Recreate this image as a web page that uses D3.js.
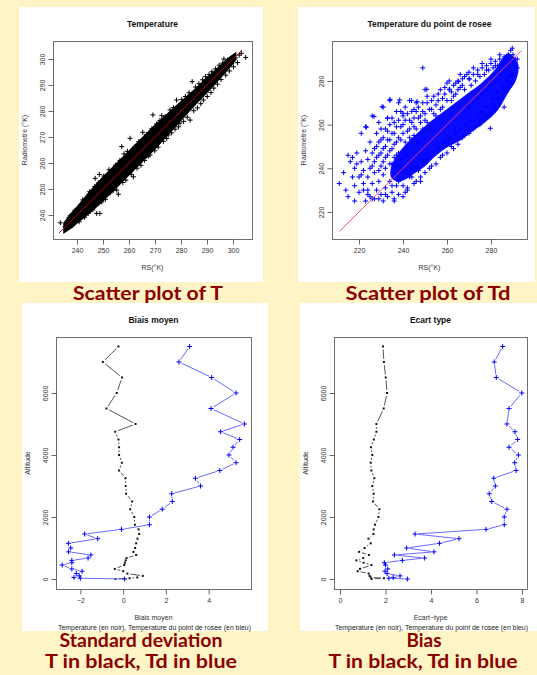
<!DOCTYPE html>
<html>
<head>
<meta charset="utf-8">
<script src="https://cdn.jsdelivr.net/npm/d3@7"></script>
<style>
  body { margin: 0; background: #fff4c6; }
  svg { display: block; }
  .axis text { font-family: "Liberation Sans", Arial, sans-serif; font-size: 7px; fill: #333; }
  .axis path, .axis line { stroke: #666; }
</style>
</head>
<body>
<div id="chart-area"></div>
<script>
// ---- data ----

// Temperature scatter: dense core (x, lower y, upper y) and the loose points around it
let tCoreX  = [235, 238, 240, 245, 250, 255, 260, 265, 270, 275, 280, 285, 290, 295, 299, 301];
let tCoreLo = [233.2, 235.2, 237, 241, 245.5, 250.5, 255.5, 260.5, 265.5, 271, 276.5, 282, 287.2, 292.7, 297.2, 299.8];
let tCoreHi = [236.8, 240.8, 243, 249, 254.5, 259.5, 264.5, 269.5, 274.5, 279, 283.5, 288, 292.8, 297.3, 300.8, 302.2];
let tScatter = [[233.6,237.0],[235.5,235.5],[236.9,239.0],[237.3,239.6],[238.5,236.2],[239.2,241.8],[240.1,240.0],[240.8,237.4],
  [241.5,243.0],[242.2,245.8],[242.9,239.1],[243.6,246.3],[244.3,240.6],[244.9,249.0],[245.3,248.6],[246.1,242.0],[246.8,251.0],
  [247.0,254.1],[247.6,240.6],[248.2,252.4],[248.6,255.6],[248.8,240.6],[249.5,245.0],[250.3,255.0],[250.9,246.0],[251.7,252.4],
  [252.3,257.4],[252.8,248.5],[253.3,255.6],[254.1,249.5],[254.8,259.2],[255.3,249.6],[255.9,248.0],[256.5,261.0],[257.2,266.3],
  [257.6,252.5],[258.1,263.5],[258.8,253.4],[259.4,264.5],[260.4,269.5],[260.9,255.6],[261.7,254.7],[262.3,266.4],[263.1,258.0],
  [263.8,268.3],[264.6,259.1],[265.3,271.8],[266.0,261.0],[266.7,270.9],[267.4,262.6],[268.1,263.1],[268.8,273.2],[269.2,278.5],
  [269.9,264.7],[270.6,275.0],[271.2,266.1],[271.9,276.4],[272.6,278.2],[273.2,268.3],[273.9,277.8],[274.5,269.4],[275.1,270.8],
  [275.8,280.4],[276.4,271.6],[277.1,281.3],[277.7,273.0],[278.3,284.2],[279.0,273.9],[279.6,275.3],[280.3,284.4],[281.0,276.0],
  [281.7,285.6],[282.4,277.6],[283.1,287.0],[283.5,276.5],[284.3,291.3],[284.9,280.1],[285.6,289.2],[286.3,281.2],[286.9,290.5],
  [287.6,282.8],[288.3,292.0],[288.6,284.2],[289.4,293.2],[290.1,285.6],[290.8,294.0],[291.5,287.1],[291.9,295.1],[292.6,288.8],
  [293.3,296.2],[294.0,290.3],[294.7,297.6],[295.4,292.1],[296.0,298.4],[296.5,300.0],[297.2,293.8],[297.9,299.6],[298.6,295.4],
  [299.5,298.3],[300.2,297.0],[301.0,300.4],[301.7,298.6],[302.4,301.5],[303.2,302.2],[304.9,300.6]];

// Dew point scatter: solid core outline and the loose points
let tdCore = [[287.7,292.7],[292.3,288.1],[291.5,280.5],[287.7,274.4],[283.2,266.7],[278.6,262.1],[272.6,257.6],[266.5,253],
  [260.5,249.9],[254.4,245.3],[249.9,240.8],[245.3,237.7],[240.8,234.7],[237,234],[234.5,236],[234.7,241],
  [237.5,246.3],[241.2,250.9],[245.8,255.5],[250.9,260.1],[257.4,265.2],[263.5,269.8],[269.5,274.4],[275.6,279],[281.7,285],[284.7,289.6]];
let tdScatter = [[211,233],[213,238],[214,230],[215,227],[215,246],[216,243],[217,236],[218,225],[218,232],[218,240],[219,247],
  [220,229],[220,236],[221,243],[221,256],[222,233],[222,239],[223,225],[223,248],[223,259],[224,230],[224,236],[224,244],[225,227],
  [225,240],[225,252],[226,233],[226,247],[226,264],[227,226],[227,238],[227,243],[228,230],[228,250],[228,256],[229,234],[229,246],
  [229,261],[230,228],[230,241],[230,253],[231,225],[231,237],[231,249],[231,268],[232,231],[232,245],[232,258],[233,227],[233,253],
  [233,263],[234,234],[234,248],[234,271],[235,229],[235,242],[235,256],[236,226],[236,251],[236,261],[237,232],[237,246],[237,266],
  [238,228],[238,254],[238,270],[239,241],[239,259],[240,227],[240,248],[240,264],[241,252],[241,268],[242,231],[242,257],[243,262],
  [243,271],[244,236],[244,253],[245,259],[245,267],[246,240],[246,270],[247,263],[248,234],[248,256],[249,266],[249,286],[250,262],
  [250,276],[251,270],[252,258],[253,267],[254,273],[255,264],[256,271],[257,276],[258,268],[259,274],[260,279],[261,276],[262,271],
  [263,278],[264,274],[265,280],[266,277],[267,281],[268,276],[269,283],[270,281],[271,278],[272,283],[273,280],[274,285],[275,282],
  [276,286],[277,283],[278,287],[279,285],[280,288],[281,286],[282,289],[283,287],[284,290],[285,288],[286,291],[287,290],[288,292],
  [289,294],[290,292],[291,290],[289.7,295],[242,230],[245,233],[248,236],[250,238],[252,240],[255,242],[257,245],[260,247],[262,250],
  [265,251],[267,254],[270,256],[272,258],[275,260],[277,262],[279.7,258.3],[280,265],[282,267],[284,270],[285,272],[286,268],[287,275],
  [288,277],[289,279],[290,282],[291,284],[292,286],[288,282],[286,276],[283,272],[281,269],[278,264],[275,262],[273,259],[270,257],
  [268,255],[263,249],[258,246],[253,241],[246,234],[241,229],[236,225],[234.1,271.6],[230.5,268.2],[238.5,271.3],[243.8,271],
  [246.4,270.5],[226.8,263.7],[223.3,258.8],[232.9,262.9],[240,265.2],[265.3,279.7],[261.2,276.2],[270.3,280.9],[250.8,276.2],
  [226,241],[227,249],[228,245],[229,252],[229,239],[230,247],[230,258],[231,243],[231,254],[232,240],[232,250],[233,246],[233,257],
  [234,242],[234,253],[234,260],[235,249],[235,263],[236,245],[236,256],[237,241],[237,252],[237,259],[238,247],[238,262],[239,244],
  [239,253],[239,266],[240,256],[240,260],[241,246],[241,262],[242,250],[242,265],[243,254],[243,258],[244,261],[244,266],[245,255],
  [245,263],[246,258],[246,266],[247,252],[247,268],[248,261],[248,264],[249,258],[249,270],[250,265],[251,261],[251,273],[252,267],
  [253,271],[254,265],[255,269],[256,274],[257,267],[258,272],[259,277],[260,271],[261,280],[262,275],[263,273],[264,279],[265,276],
  [266,283],[267,278],[268,282],[270,284],[272,286],[274,283],[276,288],[278,285],[280,290],[282,287],[284,292],[286,289],[221,237],
  [219,242],[217,245],[222,230],[224,228],[226,226],[229,226],[232,228],[235,232],[238,234],[240,232],[243,236],[244,240],[247,239],
  [249,243],[251,244],[254,247],[256,249],[259,252],[261,254],[264,256],[266,258],[269,260],[271,262],[274,264],[276,266],[278,268],
  [281,272],[283,275],[285,278],[287,280],[289,283],[291,287],[292,290],[290,289],[288,288],[286,285],[284,283],[282,280],[280,278],
  [278,276],[276,274],[274,272],[272,270],[270,268]];

// Profiles by altitude
let altitude = [0, 25, 50, 100, 175, 250, 325, 450, 525, 600, 675, 775, 875, 1000, 1150, 1300, 1450, 1600, 1750, 2000,
  2250, 2500, 2750, 3000, 3250, 3500, 3750, 4000, 4250, 4500, 4750, 5000, 5500, 6000, 6500, 7000, 7500];
let biasT  = [-0.36, 0.30, 0.66, 0.92, 0.20, 0.00, -0.39, 0.05, 0.08, 0.12, 0.16, 0.61, 0.48, 0.56, 0.61, 0.67, 0.75, 0.72, 0.55, 0.52,
  0.33, 0.42, 0.14, 0.12, 0.11, -0.19, -0.06, -0.19, -0.19, -0.22, -0.37, 0.58, -0.78, -0.30, -0.05, -0.95, -0.22];
let biasTd = [0.06, -2.00, -2.30, -2.05, -2.19, -1.92, -2.40, -2.85, -2.40, -2.40, -1.64, -1.51, -2.55, -2.45, -2.56, -1.19, -1.80, -0.08, 1.23, 1.23,
  1.83, 2.30, 2.27, 3.62, 3.38, 4.52, 5.28, 4.95, 5.14, 5.45, 4.56, 5.67, 4.11, 5.28, 4.14, 2.61, 3.11];
let sdT  = [1.39, 1.93, 1.35, 1.30, 1.26, 0.78, 0.88, 1.38, 1.04, 0.72, 1.02, 1.27, 0.84, 1.08, 1.35, 1.25, 1.47, 1.48, 1.54, 1.69,
  1.73, 1.45, 1.48, 1.42, 1.51, 1.38, 1.35, 1.42, 1.36, 1.49, 1.60, 1.60, 1.92, 2.07, 2.01, 1.93, 1.89];
let sdTd = [2.96, 2.15, 2.34, 2.64, 2.07, 1.98, 2.10, 2.00, 1.95, 2.74, 3.72, 2.39, 4.13, 2.93, 4.37, 5.23, 3.30, 6.42, 7.22, 7.22,
  7.34, 6.67, 6.56, 6.83, 6.76, 7.74, 7.68, 7.84, 7.43, 7.81, 7.69, 7.34, 7.43, 7.99, 6.87, 6.78, 7.15];

let tTicks = [240, 250, 260, 270, 280, 290, 300];
let tdTicks = [220, 240, 260, 280];
let biasTicks = [-2, 0, 2, 4];
let sdTicks = [0, 2, 4, 6, 8];
let altTicks = [0, 2000, 4000, 6000];

// ---- drawing ----
let width = 537, height = 675;
let svg = d3.select("#chart-area").append("svg")
	.attr("width", width)
	.attr("height", height);

svg.append("rect").attr("width", width).attr("height", height).attr("fill", "#fff4c6");

let plus = "M-2.5,0H2.5M0,-2.5V2.5";
let font = "'Liberation Sans', Arial, sans-serif";
let num = d => d < 0 ? "\u2212" + (-d) : String(d);

function panel(p) {
	svg.append("rect")
		.attr("x", p.card[0]).attr("y", p.card[1])
		.attr("width", p.card[2]).attr("height", p.card[3])
		.attr("fill", "#fff");

	let x = d3.scaleLinear().domain(p.xd).range([p.box[0], p.box[2]]);
	let y = d3.scaleLinear().domain(p.yd).range([p.box[3], p.box[1]]);

	let g = svg.append("g");
	let clip = "clip" + p.id;
	svg.append("clipPath").attr("id", clip).append("rect")
		.attr("x", p.box[0]).attr("y", p.box[1])
		.attr("width", p.box[2] - p.box[0]).attr("height", p.box[3] - p.box[1]);
	let plot = g.append("g").attr("clip-path", "url(#" + clip + ")");

	// box
	g.append("rect")
		.attr("x", p.box[0] + 0.5).attr("y", p.box[1] + 0.5)
		.attr("width", p.box[2] - p.box[0]).attr("height", p.box[3] - p.box[1])
		.attr("fill", "none").attr("stroke", "#707070");

	let xAxis = d3.axisBottom(x).tickValues(p.xt).tickSize(5).tickPadding(4).tickFormat(num);
	let gx = g.append("g").attr("class", "axis")
		.attr("transform", "translate(0," + (p.box[3] + 0.5) + ")")
		.call(xAxis);
	gx.select(".domain").attr("d", "M" + x(p.xt[0]) + ",0H" + x(p.xt[p.xt.length - 1]));

	let yAxis = d3.axisLeft(y).tickValues(p.yt).tickSize(5).tickFormat(num);
	let gy = g.append("g").attr("class", "axis")
		.attr("transform", "translate(" + (p.box[0] + 0.5) + ",0)")
		.call(yAxis);
	gy.select(".domain").attr("d", "M0," + y(p.yt[0]) + "V" + y(p.yt[p.yt.length - 1]));
	gy.selectAll("text")
		.attr("x", 0).attr("dy", 0).attr("y", -9)
		.attr("text-anchor", "middle")
		.attr("transform", "rotate(-90)");

	let cx = (p.box[0] + p.box[2]) / 2;
	g.append("text").attr("x", cx).attr("y", p.card[1] + 20)
		.attr("text-anchor", "middle").attr("font-family", font)
		.attr("font-size", 8.5).attr("font-weight", "bold").attr("fill", "#111")
		.text(p.title);
	g.append("text").attr("x", cx).attr("y", p.xlabY)
		.attr("text-anchor", "middle").attr("font-family", font)
		.attr("font-size", 7).attr("fill", "#333")
		.text(p.xlab);
	if (p.sub) {
		g.append("text").attr("x", cx + 1).attr("y", p.xlabY + 9.5)
			.attr("text-anchor", "middle").attr("font-family", font)
			.attr("font-size", 6.9).attr("fill", "#222")
			.text(p.sub);
	}
	let cy = (p.box[1] + p.box[3]) / 2;
	g.append("text")
		.attr("transform", "translate(" + (p.box[0] - 26) + "," + cy + ") rotate(-90)")
		.attr("text-anchor", "middle").attr("font-family", font)
		.attr("font-size", 7).attr("fill", "#333")
		.text(p.ylab);

	return {x: x, y: y, plot: plot};
}

function scatter(p, pts, color) {
	p.plot.append("g").selectAll("path").data(pts).enter().append("path")
		.attr("d", plus)
		.attr("transform", d => "translate(" + p.x(d[0]) + "," + p.y(d[1]) + ")")
		.attr("stroke", color).attr("stroke-width", 1).attr("fill", "none");
}

// ---- panel 1: Temperature ----
let p1 = panel({id: 1, card: [19, 7, 244, 275], box: [53, 41, 252, 239],
	xd: [230.77, 307.31], yd: [230.77, 306.92], xt: tTicks, yt: tTicks,
	title: "Temperature", xlab: "RS(\u00b0K)", xlabY: 270, ylab: "Radiometre (\u00b0K)"});

// core outline: upper edge forward, lower edge back
let tCorePoly = tCoreX.map((v, i) => [v, tCoreHi[i]])
	.concat(tCoreX.map((v, i) => [v, tCoreLo[i]]).reverse());
p1.plot.append("path")
	.datum(tCorePoly)
	.attr("d", d3.line().x(d => p1.x(d[0])).y(d => p1.y(d[1])).curve(d3.curveLinearClosed))
	.attr("fill", "#000").attr("stroke", "#000").attr("stroke-width", 1.5);
scatter(p1, tScatter, "#000");
p1.plot.append("line")
	.attr("x1", p1.x(233)).attr("y1", p1.y(233)).attr("x2", p1.x(303.5)).attr("y2", p1.y(303.5))
	.attr("stroke", "#c00000").attr("stroke-width", 0.9);

// ---- panel 2: Dew point ----
let p2 = panel({id: 2, card: [298, 7, 237, 275], box: [332, 41, 527, 239],
	xd: [207.7, 296.4], yd: [207.6, 298.3], xt: tdTicks, yt: tdTicks,
	title: "Temperature du point de rosee", xlab: "RS(\u00b0K)", xlabY: 270, ylab: "Radiometre (\u00b0K)"});

p2.plot.append("path")
	.datum(tdCore)
	.attr("d", d3.line().x(d => p2.x(d[0])).y(d => p2.y(d[1])).curve(d3.curveCatmullRomClosed))
	.attr("fill", "#0a0aff");
scatter(p2, tdScatter, "#0000ff");
p2.plot.append("line")
	.attr("x1", p2.x(211)).attr("y1", p2.y(211)).attr("x2", p2.x(293.8)).attr("y2", p2.y(293.8))
	.attr("stroke", "#ff4060").attr("stroke-width", 0.9);

// ---- profiles ----
function profile(p, vals, color, lineColor, mark) {
	let pts = vals.map((v, i) => [p.x(v), p.y(altitude[i])]);
	let gap = 3;
	let segs = [];
	for (let i = 1; i < pts.length; i++) {
		let a = pts[i - 1], b = pts[i];
		let dx = b[0] - a[0], dy = b[1] - a[1], len = Math.hypot(dx, dy);
		if (len > 2 * gap + 0.5) {
			let ux = dx / len, uy = dy / len;
			segs.push([a[0] + ux * gap, a[1] + uy * gap, b[0] - ux * gap, b[1] - uy * gap]);
		}
	}
	p.plot.append("g").selectAll("line").data(segs).enter().append("line")
		.attr("x1", d => d[0]).attr("y1", d => d[1]).attr("x2", d => d[2]).attr("y2", d => d[3])
		.attr("stroke", lineColor).attr("stroke-width", 1);
	if (mark === "plus") {
		p.plot.append("g").selectAll("path").data(pts).enter().append("path")
			.attr("d", plus).attr("transform", d => "translate(" + d[0] + "," + d[1] + ")")
			.attr("stroke", color).attr("fill", "none");
	} else {
		p.plot.append("g").selectAll("rect").data(pts).enter().append("rect")
			.attr("x", d => d[0] - 1).attr("y", d => d[1] - 1).attr("width", 2).attr("height", 2)
			.attr("fill", color);
	}
}

let p3 = panel({id: 3, card: [22, 303, 246, 328], box: [56, 337, 251, 589],
	xd: [-3.14, 5.98], yd: [-323, 7806], xt: biasTicks, yt: altTicks,
	title: "Biais moyen", xlab: "Biais moyen", xlabY: 620,
	sub: "Temperature (en noir), Temperature du point de rosee (en bleu)", ylab: "Altitude"});
profile(p3, biasT, "#111", "#555", "dot");
profile(p3, biasTd, "#0000ff", "#6a6aff", "plus");

let p4 = panel({id: 4, card: [300, 303, 237, 328], box: [334, 337, 527, 589],
	xd: [-0.264, 8.22], yd: [-323, 7806], xt: sdTicks, yt: altTicks,
	title: "Ecart type", xlab: "Ecart\u2212type", xlabY: 620,
	sub: "Temperature (en noir), Temperature du point de rosee (en bleu)", ylab: "Altitude"});
profile(p4, sdT, "#111", "#555", "dot");
profile(p4, sdTd, "#0000ff", "#6a6aff", "plus");

// ---- captions ----
let captions = [
	{text: "Scatter plot of T", x: 148, y: 300, w: 150},
	{text: "Scatter plot of Td", x: 428, y: 300, w: 165},
	{text: "Standard deviation", x: 141, y: 647, w: 163},
	{text: "T in black, Td in blue", x: 141, y: 668, w: 192},
	{text: "Bias", x: 424, y: 647, w: 35},
	{text: "T in black, Td in blue", x: 423, y: 668, w: 189}
];
svg.append("g").selectAll("text").data(captions).enter().append("text")
	.attr("x", d => d.x - d.w / 2).attr("y", d => d.y)
	.attr("textLength", d => d.w).attr("lengthAdjust", "spacingAndGlyphs")
	.attr("font-family", "'Comic Sans MS', Lato, sans-serif")
	.attr("font-weight", "bold").attr("font-size", 18)
	.attr("fill", "#8b0000")
	.text(d => d.text);
</script>
</body>
</html>
